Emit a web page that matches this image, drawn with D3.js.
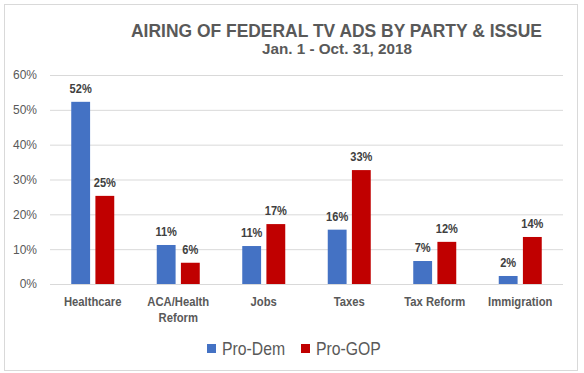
<html>
<style>
body { margin: 0; background: #fff; }
text { font-family: "Liberation Sans", Arial, sans-serif; }
</style>
<body>
<script src="https://d3js.org/d3.v7.min.js"></script>
<script>

var categories = ["Healthcare", "ACA/Health Reform", "Jobs", "Taxes", "Tax Reform", "Immigration"];
var series = ["Pro-Dem", "Pro-GOP"];
var proDem = [52.3, 11.2, 10.9, 15.6, 6.6, 2.3];
var proGop = [25.3, 6.1, 17.2, 32.7, 12.1, 13.5];
var yTicks = [0, 10, 20, 30, 40, 50, 60];
var colors = ["#4472C4", "#C00000"];

var width = 584,
    height = 373;

// narrow font is not installed, so squeeze the text horizontally
function squeeze(sel, k) {
  sel.each(function() {
    var w = this.getComputedTextLength();
    d3.select(this).attr("textLength", w * k).attr("lengthAdjust", "spacingAndGlyphs");
  });
}

var svg = d3.select("body").append("svg")
    .attr("width", width)
    .attr("height", height);

// chart frame
svg.append("rect")
    .attr("x", 4.5).attr("y", 4.5)
    .attr("width", 573).attr("height", 366)
    .attr("fill", "#fff")
    .attr("stroke", "#d9d9d9");

svg.append("text")
    .attr("x", 336.5).attr("y", 36.5)
    .attr("text-anchor", "middle")
    .attr("fill", "#595959")
    .style("font-size", "18px")
    .style("font-weight", "bold")
    .attr("textLength", 411)
    .attr("lengthAdjust", "spacingAndGlyphs")
    .text("AIRING OF FEDERAL TV ADS BY PARTY & ISSUE");

svg.append("text")
    .attr("x", 337).attr("y", 53.5)
    .attr("text-anchor", "middle")
    .attr("fill", "#595959")
    .style("font-size", "14.5px")
    .style("font-weight", "bold")
    .attr("textLength", 150)
    .attr("lengthAdjust", "spacingAndGlyphs")
    .text("Jan. 1 - Oct. 31, 2018");

var x0 = d3.scaleBand()
    .domain(categories)
    .range([50, 563]);

var x1 = d3.scaleBand()
    .domain(series)
    .range([0, 43])
    .paddingInner(0.22);

var y = d3.scaleLinear()
    .domain([0, 60])
    .range([284, 75]);

// gridlines + y labels
var yAxis = d3.axisLeft(y)
    .tickValues(yTicks)
    .tickSize(-(563 - 50))
    .tickFormat(function(d) { return d + "%"; });

var gy = svg.append("g")
    .attr("transform", "translate(50,0)")
    .call(yAxis);
gy.select(".domain").remove();
gy.selectAll(".tick line").attr("stroke", "#d9d9d9");
gy.selectAll(".tick text")
    .attr("x", -13)
    .attr("fill", "#595959")
    .style("font-size", "12px");

var rows = categories.map(function(c, i) {
  return { cat: c, vals: [proDem[i], proGop[i]] };
});

var off = (x0.bandwidth() - 43) / 2;

var grp = svg.selectAll(".cat")
    .data(rows)
    .enter().append("g")
    .attr("class", "cat")
    .attr("transform", function(d) { return "translate(" + (x0(d.cat) + off) + ",0)"; });

grp.selectAll("rect")
    .data(function(d) { return d.vals.map(function(v, j) { return { s: series[j], v: v, j: j }; }); })
    .enter().append("rect")
    .attr("x", function(d) { return x1(d.s); })
    .attr("y", function(d) { return y(d.v); })
    .attr("width", x1.bandwidth())
    .attr("height", function(d) { return y(0) - y(d.v); })
    .attr("fill", function(d) { return colors[d.j]; });

grp.selectAll(".lbl")
    .data(function(d) { return d.vals.map(function(v, j) { return { s: series[j], v: v }; }); })
    .enter().append("text")
    .attr("class", "lbl")
    .attr("x", function(d) { return x1(d.s) + x1.bandwidth() / 2; })
    .attr("y", function(d) { return y(d.v) - 9; })
    .attr("text-anchor", "middle")
    .attr("fill", "#404040")
    .style("font-size", "12px")
    .style("font-weight", "bold")
    .text(function(d) { return Math.round(d.v) + "%"; })
    .call(squeeze, 0.92);

// category labels, wrapped like the original
var catLines = {
  "ACA/Health Reform": ["ACA/Health", "Reform"]
};
svg.selectAll(".xl")
    .data(categories)
    .enter().append("text")
    .attr("class", "xl")
    .attr("x", function(d) { return x0(d) + x0.bandwidth() / 2; })
    .attr("y", 305.5)
    .attr("text-anchor", "middle")
    .attr("fill", "#595959")
    .style("font-size", "12.5px")
    .style("font-weight", "bold")
    .each(function(d) {
      var lines = catLines[d] || [d];
      var t = d3.select(this);
      lines.forEach(function(l, k) {
        t.append("tspan")
          .attr("x", x0(d) + x0.bandwidth() / 2)
          .attr("dy", k === 0 ? 0 : 16)
          .text(l);
      });
    });
squeeze(svg.selectAll(".xl tspan"), 0.9);

// legend
var legX = [207, 301];
var leg = svg.selectAll(".leg")
    .data(series)
    .enter().append("g")
    .attr("class", "leg")
    .attr("transform", function(d, i) { return "translate(" + legX[i] + ",344)"; });
leg.append("rect")
    .attr("width", 9).attr("height", 9)
    .attr("fill", function(d, i) { return colors[i]; });
leg.append("text")
    .attr("x", 15).attr("y", 10.5)
    .attr("fill", "#595959")
    .style("font-size", "19px")
    .text(function(d) { return d; })
    .call(squeeze, 0.83);

</script>
</body>
</html>
